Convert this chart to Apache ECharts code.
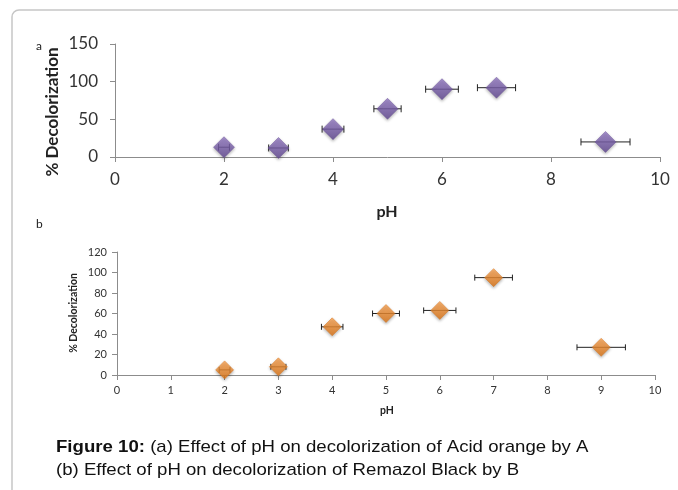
<!DOCTYPE html>
<html>
<head>
<meta charset="utf-8">
<script src="https://cdn.jsdelivr.net/npm/echarts@6/dist/echarts.min.js"></script>
<style>
  html, body { margin: 0; padding: 0; background: #fff; }
  #main { width: 678px; height: 490px; }
</style>
</head>
<body>
<div id="main"></div>
<script>
// pH values (same for both panels)
var phValues = [2, 3, 4, 5, 6, 7, 9];
// (a) Acid orange by A
var decolA = [13, 12, 37, 64, 90, 92, 20];
var errA = [0.1, 0.18, 0.2, 0.25, 0.3, 0.35, 0.45];
// (b) Remazol Black by B
var decolB = [5, 8, 47, 60, 63, 95, 27];
var errB = [0.1, 0.14, 0.2, 0.25, 0.3, 0.35, 0.45];

var yTicksA = [0, 50, 100, 150];
var yTicksB = [0, 20, 40, 60, 80, 100, 120];

var calibri = 'Lato, "Open Sans", sans-serif';
var arial = '"Liberation Sans", Arial, sans-serif';
var axisGray = '#8c8c8c';

function pts(ys, errs) {
    return phValues.map(function (x, i) { return [x, ys[i], errs[i]]; });
}

function errorBar(capH) {
    return function (params, api) {
        var x = api.value(0), y = api.value(1), e = api.value(2);
        var p1 = api.coord([x - e, y]);
        var p2 = api.coord([x + e, y]);
        var st = { stroke: '#222', lineWidth: 1 };
        return {
            type: 'group',
            children: [
                { type: 'line', shape: { x1: p1[0], y1: p1[1], x2: p2[0], y2: p2[1] }, style: st },
                { type: 'line', shape: { x1: p1[0], y1: p1[1] - capH, x2: p1[0], y2: p1[1] + capH }, style: st },
                { type: 'line', shape: { x1: p2[0], y1: p2[1] - capH, x2: p2[0], y2: p2[1] + capH }, style: st }
            ]
        };
    };
}

function grad(top, bottom) {
    return new echarts.graphic.LinearGradient(0, 0, 0, 1, [
        { offset: 0, color: top },
        { offset: 1, color: bottom }
    ]);
}

function xAxisFor(idx, size, interval, margin) {
    return {
        gridIndex: idx, type: 'value', min: 0, max: 10, interval: interval,
        axisLine: { onZero: false, lineStyle: { color: axisGray, width: 1 } },
        axisTick: { show: true, length: 5, lineStyle: { color: axisGray } },
        axisLabel: { color: '#333', fontFamily: calibri, fontSize: size, margin: margin },
        splitLine: { show: false }
    };
}

function yAxisFor(idx, size, max, interval, margin) {
    return {
        gridIndex: idx, type: 'value', min: 0, max: max, interval: interval,
        axisLine: { show: true, lineStyle: { color: axisGray, width: 1 } },
        axisTick: { show: true, length: 5, lineStyle: { color: axisGray } },
        axisLabel: { color: '#333', fontFamily: calibri, fontSize: size, margin: margin },
        splitLine: { show: false }
    };
}

var chart = echarts.init(document.getElementById('main'), null, { renderer: 'canvas' });

var option = {
    backgroundColor: '#fff',
    animation: false,
    grid: [
        { left: 115, right: 18, top: 44, height: 113 },
        { left: 117, right: 23, top: 252, height: 123 }
    ],
    xAxis: [
        xAxisFor(0, 17, 2, 14),
        xAxisFor(1, 11, 1, 10)
    ],
    yAxis: [
        yAxisFor(0, 17, 150, 50, 17),
        yAxisFor(1, 11, 120, 20, 10)
    ],
    series: [
        {
            type: 'custom', xAxisIndex: 0, yAxisIndex: 0,
            renderItem: errorBar(3.5), data: pts(decolA, errA), z: 2
        },
        {
            type: 'scatter', xAxisIndex: 0, yAxisIndex: 0,
            symbol: 'diamond', symbolSize: [21, 21],
            data: pts(decolA, errA), z: 3,
            itemStyle: {
                color: grad('#957ac6', '#5f4690'),
                borderColor: '#6a5098', borderWidth: 0.6,
                shadowColor: 'rgba(0,0,0,0.35)', shadowBlur: 3, shadowOffsetY: 1.5
            }
        },
        {
            type: 'custom', xAxisIndex: 1, yAxisIndex: 1,
            renderItem: errorBar(3), data: pts(decolB, errB), z: 2
        },
        {
            type: 'scatter', xAxisIndex: 1, yAxisIndex: 1,
            symbol: 'diamond', symbolSize: [18, 18],
            data: pts(decolB, errB), z: 3,
            itemStyle: {
                color: grad('#fca452', '#dc7312'),
                borderColor: '#d9731a', borderWidth: 0.6,
                shadowColor: 'rgba(0,0,0,0.35)', shadowBlur: 3, shadowOffsetY: 1.5
            }
        }
    ],
    graphic: [
        {
            type: 'rect', silent: true,
            shape: { x: 12, y: 10, width: 700, height: 520, r: 7 },
            style: { fill: 'none', stroke: '#c6c6c6', lineWidth: 1.5 }
        },
        { type: 'text', left: 36, top: 40, style: { text: 'a', font: '12px ' + calibri, fill: '#222' } },
        { type: 'text', left: 36, top: 218, style: { text: 'b', font: '12px ' + calibri, fill: '#222' } },
        {
            type: 'text', x: 53, y: 112, rotation: Math.PI / 2,
            style: {
                text: '% Decolorization', font: 'bold 17px ' + calibri, fill: '#222',
                align: 'center', verticalAlign: 'middle'
            }
        },
        {
            type: 'text', x: 387, y: 212,
            style: { text: 'pH', font: 'bold 16px ' + calibri, fill: '#222', align: 'center', verticalAlign: 'middle' }
        },
        {
            type: 'text', x: 74, y: 313, rotation: Math.PI / 2,
            style: {
                text: '% Decolorization', font: 'bold 10.5px ' + calibri, fill: '#222',
                align: 'center', verticalAlign: 'middle'
            }
        },
        {
            type: 'text', x: 387, y: 411,
            style: { text: 'pH', font: 'bold 10.5px ' + calibri, fill: '#222', align: 'center', verticalAlign: 'middle' }
        },
        {
            type: 'text', x: 56, y: 447, scaleX: 1.095,
            style: {
                rich: {
                    b: { font: 'bold 17px ' + arial, fill: '#111' },
                    n: { font: '17px ' + arial, fill: '#111' }
                },
                text: '{b|Figure 10:}{n| (a) Effect of pH on decolorization of Acid orange by A}',
                verticalAlign: 'middle'
            }
        },
        {
            type: 'text', x: 56, y: 470, scaleX: 1.095,
            style: {
                text: '(b) Effect of pH on decolorization of Remazol Black by B',
                font: '17px ' + arial, fill: '#111', verticalAlign: 'middle'
            }
        }
    ]
};

chart.setOption(option);
</script>
</body>
</html>
